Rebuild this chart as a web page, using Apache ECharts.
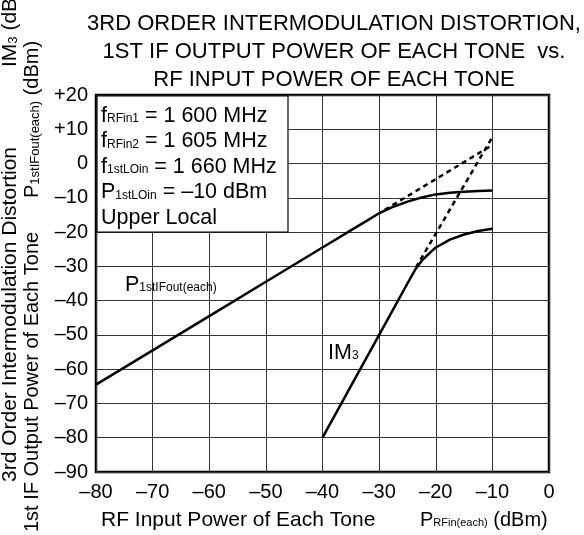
<!DOCTYPE html>
<html>
<head>
<meta charset="utf-8">
<script src="https://cdn.jsdelivr.net/npm/echarts@6/dist/echarts.min.js"></script>
<style>
	html, body {margin: 0; padding: 0; background: #fff;}
	#main {width: 584px; height: 535px;}
</style>
</head>
<body>
<div id="main"></div>
<script>
// values (dBm)
var pOut = [[-80, -64.5], [-70, -54.5], [-60, -44.5], [-50, -34.5], [-40, -24.5], [-35, -19.5],
	[-32.5, -17.0], [-30, -14.5], [-27.5, -12.6], [-25, -11.1], [-22.5, -9.9], [-20, -9.0],
	[-17.5, -8.5], [-15, -8.2], [-12.5, -8.0], [-10, -7.9]];
var im3 = [[-40, -80], [-30, -50], [-25, -35], [-23.5, -30.6], [-22.5, -28.4], [-21, -26.0],
	[-20, -24.5], [-17.5, -22.2], [-15, -20.7], [-12.5, -19.7], [-10, -19.0]];
var pOutExt = [[-29, -13.5], [-10, 5.4]];
var im3Ext = [[-23.5, -30.3], [-10, 7.7]];

var xRange = [-80, 0];
var yRange = [-90, 20];
var titleLines = ['3RD ORDER INTERMODULATION DISTORTION,', '1ST IF OUTPUT POWER OF EACH TONE  vs.', 'RF INPUT POWER OF EACH TONE'];
var conditions = [
	'{a|f}{s|RFin1}{a| = 1 600 MHz}',
	'{a|f}{s|RFin2}{a| = 1 605 MHz}',
	'{a|f}{s|1stLOin}{a| = 1 660 MHz}',
	'{a|P}{s|1stLOin}{a| = \u201310 dBm}',
	'{a|Upper Local}'
];

var FONT = '"Liberation Sans", Arial, sans-serif';

function tickFmt(v) {
	if (v > 0) return '+' + v;
	if (v < 0) return '\u2013' + Math.abs(v);
	return '0';
}

function richSet(size, sub, lh) {
	return {
		a: {fontSize: size, fontFamily: FONT, fill: '#000', lineHeight: lh},
		s: {fontSize: sub, fontFamily: FONT, fill: '#000', lineHeight: sub + 4, padding: [Math.round(size * 0.28), 0, 0, 0]}
	};
}

function txt(x, y, text, rich, rot) {
	return {
		type: 'text', z: 11, x: x, y: y, rotation: rot || 0,
		style: {text: text, rich: rich, fill: '#000', align: 'left', verticalAlign: 'middle'}
	};
}

var boxRich = richSet(21.5, 12, 25.5);
var axRich = richSet(20, 13, 24);
var ax1Rich = richSet(21, 13, 24);
var xRich = richSet(21, 11, 24);
var xRich2 = richSet(20, 11, 24);

var ec = echarts.init(document.getElementById('main'));
var option = {
	animation: false,
	backgroundColor: '#fff',
	title: {
		text: titleLines.join('\n'),
		left: 329,
		top: 5,
		textAlign: 'center',
		textStyle: {fontSize: 22, fontWeight: 'normal', fontFamily: FONT, color: '#000', lineHeight: 28}
	},
	grid: {
		left: 96, right: 35, top: 95, bottom: 63,
		show: true, borderColor: '#000', borderWidth: 2.5, backgroundColor: 'transparent'
	},
	xAxis: {
		type: 'value',
		min: xRange[0], max: xRange[1], interval: 10,
		axisLine: {show: false},
		axisTick: {show: false},
		splitLine: {lineStyle: {color: '#333', width: 1}},
		axisLabel: {formatter: tickFmt, fontSize: 20, fontFamily: FONT, color: '#000', margin: 10}
	},
	yAxis: {
		type: 'value',
		min: yRange[0], max: yRange[1], interval: 10,
		axisLine: {show: false},
		axisTick: {show: false},
		splitLine: {lineStyle: {color: '#333', width: 1}},
		axisLabel: {formatter: tickFmt, fontSize: 20, fontFamily: FONT, color: '#000', margin: 8}
	},
	series: [
		{
			name: 'P1stIFout(each)', type: 'line', data: pOut, showSymbol: false,
			lineStyle: {color: '#000', width: 2.5, join: 'round'}
		},
		{
			name: 'IM3', type: 'line', data: im3, showSymbol: false,
			lineStyle: {color: '#000', width: 2.5, join: 'round'}
		},
		{
			name: 'P extrapolated', type: 'line', data: pOutExt, showSymbol: false,
			lineStyle: {color: '#000', width: 2.5, type: [5, 4]}
		},
		{
			name: 'IM3 extrapolated', type: 'line', data: im3Ext, showSymbol: false,
			lineStyle: {color: '#000', width: 2.5, type: [5, 4]}
		}
	],
	graphic: [
		{
			type: 'rect', z: 10,
			shape: {x: 97, y: 96, width: 191, height: 136},
			style: {fill: '#fff', stroke: '#000', lineWidth: 1.2}
		},
		{
			type: 'text', z: 11, x: 101, y: 103,
			style: {text: conditions.join('\n'), rich: boxRich, fill: '#000', align: 'left', verticalAlign: 'top'}
		},
		txt(125, 285, '{a|P}{s|1stIFout(each)}', boxRich),
		txt(328, 353, '{a|IM}{s|3}', boxRich),
		// axis titles
		txt(101, 520, '{a|RF Input Power of Each Tone}', xRich),
		txt(420, 520, '{a|P}{s|RFin(each)}{a| (dBm)}', xRich2),
		txt(10, 482, '{a|3rd Order Intermodulation Distortion}', ax1Rich, Math.PI / 2),
		txt(10, 67, '{a|IM}{s|3}{a| (dBm)}', ax1Rich, Math.PI / 2),
		txt(32, 532, '{a|1st IF Output Power of Each Tone}', axRich, Math.PI / 2),
		txt(32, 198, '{a|P}{s|1stIFout(each)}{a| (dBm)}', axRich, Math.PI / 2)
	]
};
ec.setOption(option);
</script>
</body>
</html>
